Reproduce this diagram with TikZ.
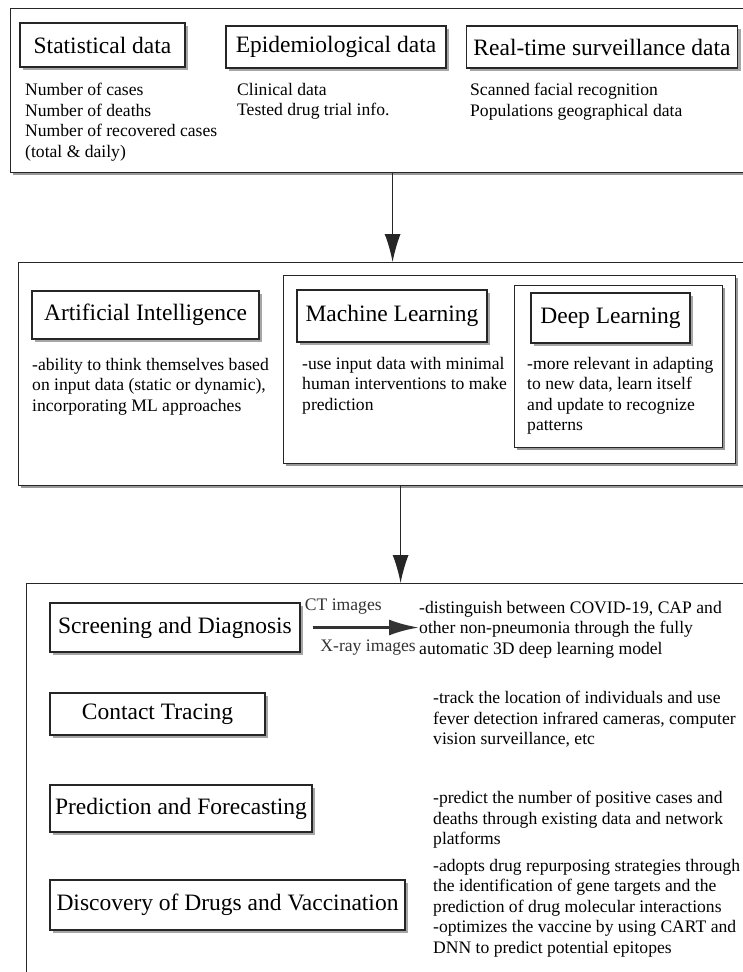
\documentclass[tikz,border=0pt]{standalone}
\usepackage{fontspec}
\setmainfont{Liberation Serif}
\usetikzlibrary{arrows.meta,shadows}

\begin{document}
\begin{tikzpicture}[x=1pt, y=-1pt,
    panel/.style={draw=black!85, line width=1.2pt, fill=white, inner sep=0pt, anchor=north west,
        drop shadow={shadow xshift=2.5pt, shadow yshift=-2.5pt, fill=black!40, opacity=1}},
    title/.style={draw=black!85, line width=1.4pt, fill=white, inner sep=0pt,
        font=\fontsize{23.5}{27}\selectfont,
        drop shadow={shadow xshift=3pt, shadow yshift=-3pt, fill=black!35, opacity=1}},
    info/.style={anchor=north west, align=left, inner sep=0pt,
        font=\fontsize{17.6}{20.5}\selectfont},
    flow/.style={-{Latex[length=28pt, width=16pt]}, line width=1.2pt, draw=black!85},
]
\useasboundingbox (0,0) rectangle (742,972);

% Data sources
\node[panel, minimum width=764pt, minimum height=164pt] (data) at (10,8) {};
\node[title, minimum width=165pt, minimum height=44pt] (stat) at (102.5,45) {Statistical data};
\node[title, minimum width=220pt, minimum height=42pt] (epi) at (336,47) {Epidemiological data};
\node[title, minimum width=271pt, minimum height=42pt] (rts) at (602,47) {Real-time surveillance data};
\node[info] (stattxt) at (25,83) {Number of cases\\Number of deaths\\Number of recovered cases\\(total \& daily)};
\node[info] (epitxt) at (237,83) {Clinical data\\Tested drug trial info.};
\node[info] (rtstxt) at (470,83) {Scanned facial recognition\\Populations geographical data};

% Models
\node[panel, minimum width=764pt, minimum height=223pt] (model) at (18,262) {};
\node[panel, minimum width=452pt, minimum height=188pt] (mlgroup) at (283,275) {};
\node[panel, minimum width=208pt, minimum height=162pt] (dlgroup) at (514,285) {};
\node[title, minimum width=227pt, minimum height=48pt] (ai) at (145.5,315) {Artificial Intelligence};
\node[title, minimum width=190pt, minimum height=52pt] (ml) at (392,316) {Machine Learning};
\node[title, minimum width=159pt, minimum height=50pt] (dl) at (610.5,318) {Deep Learning};
\node[info] (aitxt) at (32,358) {-ability to think themselves based\\on input data (static or dynamic),\\incorporating ML approaches};
\node[info] (mltxt) at (302,357) {-use input data with minimal\\human interventions to make\\prediction};
\node[info] (dltxt) at (527,357) {-more relevant in adapting\\to new data, learn itself\\and update to recognize\\patterns};

% Applications
\node[panel, minimum width=748pt, minimum height=420pt] (apps) at (26,583) {};
\node[title, minimum width=250pt, minimum height=49pt] (scr) at (175,627.5) {Screening and Diagnosis};
\node[title, minimum width=215pt, minimum height=42pt] (ctr) at (157.5,714) {Contact Tracing};
\node[title, minimum width=262pt, minimum height=47pt] (pfc) at (181,808.5) {Prediction and Forecasting};
\node[title, minimum width=355pt, minimum height=50pt] (ddv) at (227.5,905) {Discovery of Drugs and Vaccination};
\node[info] (scrtxt) at (419,601) {-distinguish between COVID-19, CAP and\\other non-pneumonia through the fully\\automatic 3D deep learning model};
\node[info] (ctrtxt) at (433,691) {-track the location of individuals and use\\fever detection infrared cameras, computer\\vision surveillance, etc};
\node[info] (pfctxt) at (433,791) {-predict the number of positive cases and\\deaths through existing data and network\\platforms};
\node[info] (ddvtxt) at (433,859) {-adopts drug repurposing strategies through\\the identification of gene targets and the\\prediction of drug molecular interactions\\-optimizes the vaccine by using CART and\\DNN to predict potential epitopes};

% Connectors
\draw[flow] (data.south) -- (data.south |- model.north);
\draw[flow] (model.south) -- (apps.north);
\draw[-{Latex[length=30pt, width=16pt]}, line width=3pt, black!80, shorten <=12pt] (scr.east) -- (scr.east -| scrtxt.west)
    node[pos=0.36, above=12pt, inner sep=0pt, font=\fontsize{17.6}{20.5}\selectfont] (ctimg) {CT images}
    node[pos=0.57, below=11pt, inner sep=0pt, font=\fontsize{17.6}{20.5}\selectfont] (xray) {X-ray images};
\end{tikzpicture}
\end{document}
